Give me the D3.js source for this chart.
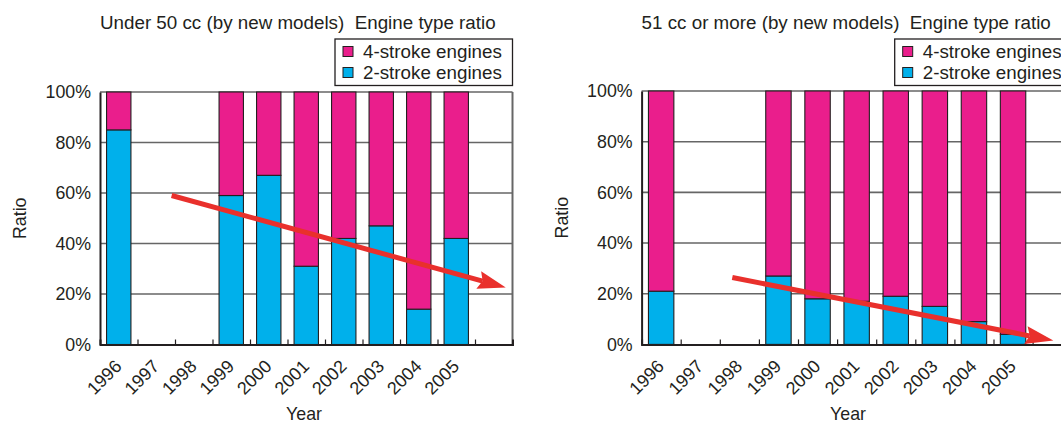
<!DOCTYPE html>
<html>
<head>
<meta charset="utf-8">
<script src="https://cdn.jsdelivr.net/npm/d3@7"></script>
<style>
  html, body { margin: 0; padding: 0; background: #fff; }
  svg { display: block; font-family: "Liberation Sans", Arial, Helvetica, sans-serif; }
</style>
</head>
<body>
<svg id="chart" width="1061" height="423"></svg>
<script>
// Model years (one spare slot is left empty at the right of each plot)
const years = ["1996", "1997", "1998", "1999", "2000", "2001", "2002", "2003", "2004", "2005"];
const spareSlot = "";
const percentTicks = [0, 20, 40, 60, 80, 100];

// Under 50 cc: share of new models by engine type (%)
const under50TwoStroke  = [85, null, null, 59, 67, 31, 42, 47, 14, 42];
const under50FourStroke = [15, null, null, 41, 33, 69, 58, 53, 86, 58];

// 51 cc or more: share of new models by engine type (%)
const over51TwoStroke  = [21, null, null, 27, 18, 17, 19, 15, 9, 4];
const over51FourStroke = [79, null, null, 73, 82, 83, 81, 85, 91, 96];

// Trend arrows: position in year slots, value in %
const under50Trend = [{ slot: 1.91, value: 59 }, { slot: 10.82, value: 22.6 }];
const over51Trend  = [{ slot: 2.32, value: 26.4 }, { slot: 10.53, value: 1.5 }];

const seriesNames = ["4-stroke engines", "2-stroke engines"];
const colors = { four: "#ea1e8c", two: "#00b0eb", arrow: "#e9302c", ink: "#231f20", grid: "#666666" };

const svg = d3.select("#chart");

function drawPanel(cfg) {
  const g = svg.append("g");
  const slots = years.concat([spareSlot]);
  const x = d3.scaleBand().domain(slots).range([cfg.left, cfg.right]).paddingInner(0.35).paddingOuter(0.175);
  const slotScale = d3.scaleLinear().domain([0, slots.length]).range([cfg.left, cfg.right]);
  const y = d3.scaleLinear().domain([0, 100]).range([cfg.bottom, cfg.top]);

  // horizontal gridlines (100% line closes the frame)
  g.append("g").selectAll("line").data(percentTicks.filter(d => d > 0)).join("line")
    .attr("x1", cfg.left).attr("x2", cfg.right)
    .attr("y1", d => y(d)).attr("y2", d => y(d))
    .attr("stroke", colors.grid).attr("stroke-width", 1.6);
  // right frame edge
  g.append("line").attr("x1", cfg.right).attr("x2", cfg.right).attr("y1", cfg.top).attr("y2", cfg.bottom)
    .attr("stroke", colors.grid).attr("stroke-width", 2);

  // stacked bars
  const rows = years.map((yr, i) => ({ year: yr, two: cfg.two[i], four: cfg.four[i] })).filter(d => d.two != null);
  const stack = d3.stack().keys(["two", "four"])(rows);
  g.append("g").selectAll("g").data(stack).join("g")
    .attr("fill", s => colors[s.key])
    .selectAll("rect").data(s => s).join("rect")
    .attr("x", d => x(d.data.year)).attr("width", x.bandwidth())
    .attr("y", d => y(d[1])).attr("height", d => y(d[0]) - y(d[1]))
    .attr("stroke", colors.ink).attr("stroke-width", 1.1);

  // x axis: inward ticks on slot boundaries
  const xAxis = d3.axisBottom(slotScale).tickValues(d3.range(1, slots.length)).tickSize(-5).tickFormat("");
  const xa = g.append("g").attr("transform", `translate(0,${cfg.bottom})`).call(xAxis);
  xa.select(".domain").attr("stroke", colors.ink).attr("stroke-width", 2);
  xa.selectAll(".tick line").attr("stroke", colors.ink).attr("stroke-width", 1.2);

  // year labels at 45°
  g.append("g").selectAll("text").data(years).join("text")
    .attr("transform", d => `translate(${x(d) + x.bandwidth() / 2 + 4},${cfg.bottom + 23}) rotate(-45)`)
    .attr("text-anchor", "end").attr("font-size", 18).attr("fill", colors.ink)
    .text(d => d);

  // y axis
  const yAxis = d3.axisLeft(y).tickValues(percentTicks).tickSize(0).tickPadding(9).tickFormat(d => d + "%");
  const ya = g.append("g").attr("transform", `translate(${cfg.left},0)`).call(yAxis);
  ya.select(".domain").attr("stroke", colors.ink).attr("stroke-width", 2);
  ya.selectAll("text").attr("font-size", 17.8).attr("fill", colors.ink).attr("font-family", null);

  // trend arrow
  const p0 = [slotScale(cfg.trend[0].slot), y(cfg.trend[0].value)];
  const p1 = [slotScale(cfg.trend[1].slot), y(cfg.trend[1].value)];
  const dx = p1[0] - p0[0], dy = p1[1] - p0[1], len = Math.hypot(dx, dy);
  const u = [dx / len, dy / len], n = [-u[1], u[0]];
  const headLen = 28, headHalf = 9, notch = 4;
  const back = [p1[0] - headLen * u[0], p1[1] - headLen * u[1]];
  const neck = [p1[0] - (headLen - notch) * u[0], p1[1] - (headLen - notch) * u[1]];
  g.append("line").attr("x1", p0[0]).attr("y1", p0[1]).attr("x2", neck[0]).attr("y2", neck[1])
    .attr("stroke", colors.arrow).attr("stroke-width", 5);
  g.append("path")
    .attr("d", `M${p1[0]},${p1[1]}L${back[0] + headHalf * n[0]},${back[1] + headHalf * n[1]}L${neck[0]},${neck[1]}L${back[0] - headHalf * n[0]},${back[1] - headHalf * n[1]}Z`)
    .attr("fill", colors.arrow);

  // titles
  g.append("text").attr("x", cfg.left).attr("y", 29).attr("font-size", 18.8).attr("fill", colors.ink)
    .attr("xml:space", "preserve").style("white-space", "pre").text(cfg.title);
  g.append("text").attr("x", cfg.yearX).attr("y", 419.5).attr("text-anchor", "middle")
    .attr("font-size", 17.8).attr("fill", colors.ink).text("Year");
  g.append("text").attr("transform", `translate(${cfg.ratioX},${(cfg.top + cfg.bottom) / 2}) rotate(-90)`)
    .attr("text-anchor", "middle").attr("font-size", 17.8).attr("fill", colors.ink).text("Ratio");

  // legend
  const lg = g.append("g").attr("transform", `translate(${cfg.legendX},39)`);
  lg.append("rect").attr("x", 0).attr("y", 0).attr("width", 177.5).attr("height", 46.5)
    .attr("fill", "#fff").attr("stroke", colors.ink).attr("stroke-width", 1.3);
  const items = lg.selectAll("g").data(seriesNames).join("g")
    .attr("transform", (d, i) => `translate(8,${7.5 + i * 21})`);
  items.append("rect").attr("width", 10).attr("height", 10)
    .attr("fill", (d, i) => i === 0 ? colors.four : colors.two)
    .attr("stroke", colors.ink).attr("stroke-width", 1);
  items.append("text").attr("x", 20).attr("y", 11.5).attr("font-size", 18.8).attr("fill", colors.ink).text(d => d);
}

drawPanel({
  left: 100, right: 512.5, top: 92, bottom: 344.5,
  two: under50TwoStroke, four: under50FourStroke, trend: under50Trend,
  title: "Under 50 cc (by new models)  Engine type ratio",
  legendX: 335, yearX: 304, ratioX: 26
});
drawPanel({
  left: 641.6, right: 1071.7, top: 91, bottom: 344.4,
  two: over51TwoStroke, four: over51FourStroke, trend: over51Trend,
  title: "51 cc or more (by new models)  Engine type ratio",
  legendX: 894.7, yearX: 848, ratioX: 568
});
</script>
</body>
</html>
